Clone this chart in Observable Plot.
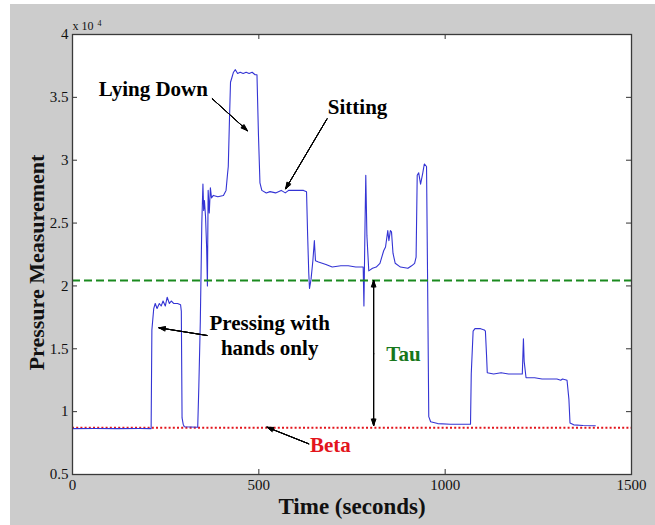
<!DOCTYPE html>
<html><head><meta charset="utf-8">
<script src="https://cdn.jsdelivr.net/npm/d3@7"></script>
<script src="https://cdn.jsdelivr.net/npm/@observablehq/plot@0.6"></script>
<style>
html,body{margin:0;padding:0;background:#fff;}
#wrap{position:relative;width:655px;height:525px;overflow:hidden;}
#bg{position:absolute;left:10px;top:4px;right:0;bottom:0;background:#cccccc;}
#chart{position:absolute;left:0;top:0;}
#chart svg text{font-family:'Liberation Serif','Times New Roman',serif;}
</style></head><body>
<div id="wrap"><div id="bg"></div><div id="chart"></div></div>
<script>
// Tick values
const xTicks = [0, 500, 1000, 1500];
const yTicks = [5000, 10000, 15000, 20000, 25000, 30000, 35000, 40000];

// Pressure series: [time (s), pressure]
const pressureSeries = [
  [0,8650],[60,8660],[120,8650],[180,8655],[211,8650],[213,16500],[218,18200],[222,18600],
  [227,18200],[233,18600],[238,18400],[243,18800],[249,18400],[254,19100],[260,18600],
  [265,18800],[272,18600],[282,18600],[290,18500],[292,18000],[294,9500],[297,9000],
  [300,8800],[318,8780],[336,8760],[339,12000],[343,17200],[347,25000],[350,28100],
  [352,26000],[354,26800],[357,25500],[360,23000],[362,20000],[364,27600],[367,25800],
  [370,27800],[373,27000],[378,27200],[390,27100],[405,27200],[412,27600],[416,28900],
  [418,29500],[421,33000],[424,36200],[428,36600],[432,37000],[437,37200],[443,36900],
  [450,37000],[458,36900],[466,37000],[474,36900],[482,37000],[490,36800],[495,36800],
  [499,32000],[503,28200],[508,27600],[520,27400],[530,27500],[545,27400],[560,27600],
  [571,27400],[580,27600],[600,27600],[620,27600],[628,27500],[631,24000],[634,21000],
  [636,19800],[640,20500],[645,22000],[649,23600],[652,22000],[660,21900],[680,21700],
  [697,21500],[720,21600],[740,21600],[760,21500],[780,21500],[782,18400],[785,25000],
  [787,28800],[790,24000],[795,21200],[805,21400],[815,21500],[825,21800],[835,22800],
  [840,23100],[846,24400],[849,23600],[853,24400],[856,24300],[860,22600],[866,21800],
  [880,21500],[900,21400],[910,21600],[918,21800],[922,22300],[925,28800],[929,29000],
  [934,28100],[940,29000],[944,29700],[950,29500],[953,20000],[956,9600],[961,9200],
  [980,9050],[1014,9000],[1040,9000],[1068,9000],[1070,13000],[1075,16400],[1080,16600],
  [1095,16600],[1105,16500],[1108,16400],[1111,14500],[1113,13100],[1130,13000],
  [1150,13100],[1170,13000],[1190,13000],[1207,13000],[1210,15800],[1212,14000],
  [1217,12700],[1240,12700],[1260,12600],[1280,12600],[1300,12600],[1310,12500],
  [1315,12600],[1327,12500],[1332,11000],[1335,9100],[1345,8950],[1370,8900],[1403,8880]
];

// Threshold levels
const tauLevel = 20430;
const betaLevel = 8710;

// Annotation labels: [text, time, pressure, color]
const annotations = [
  ["Lying Down", 217, 35780, "black"],
  ["Sitting", 765, 34350, "black"],
  ["Pressing with\nhands only", 529, 16140, "black"],
  ["Beta", 692, 7470, "#e3151c"],
  ["Tau", 888, 14700, "#17771b"]
];

// Annotation arrows: [t1, p1, t2, p2]
const arrows = [
  [375, 34890, 469, 32360],
  [683, 33290, 572, 27730],
  [361, 16060, 232, 16670],
  [634, 7440, 522, 8760],
  [808, 14600, 808, 20430],
  [808, 14600, 808, 8900]
];

const serif = "'Liberation Serif', 'Times New Roman', serif";

// stacked arrowheads give a filled look
const headAngles = [40, 30, 20, 10];
const arrowMarks = headAngles.map(a => Plot.arrow(arrows, {
  x1: d => d[0], y1: d => d[1], x2: d => d[2], y2: d => d[3],
  stroke: "black", strokeWidth: 1, headLength: 10, headAngle: a
}));

const chart = Plot.plot({
  width: 655, height: 525,
  marginLeft: 72, marginRight: 24, marginTop: 34, marginBottom: 51,
  style: {background: "transparent", fontFamily: serif, color: "#111"},
  x: {domain: [0, 1500], axis: null},
  y: {domain: [5000, 40000], axis: null},
  marks: [
    Plot.frame({fill: "white", stroke: "none"}),
    Plot.ruleY([betaLevel], {stroke: "#e3151c", strokeWidth: 2, strokeDasharray: "2,2.2"}),
    Plot.line(pressureSeries, {x: d => d[0], y: d => d[1], stroke: "#3434d4", strokeWidth: 1.1}),
    Plot.ruleY([tauLevel], {stroke: "#1a8a1f", strokeWidth: 2, strokeDasharray: "8,4"}),
    ...arrowMarks,
    Plot.text(annotations, {x: d => d[1], y: d => d[2], text: d => d[0], fill: d => d[3],
      fontFamily: serif, fontSize: 21, fontWeight: "bold", lineAnchor: "middle", textAnchor: "middle", lineHeight: 1.2}),
    // inward ticks
    Plot.ruleX(xTicks, {x: d => d, insetTop: 435, stroke: "#333"}),
    Plot.ruleX(xTicks, {x: d => d, insetBottom: 435, stroke: "#333"}),
    Plot.ruleY(yTicks, {y: d => d, insetRight: 554, stroke: "#333"}),
    Plot.ruleY(yTicks, {y: d => d, insetLeft: 554, stroke: "#333"}),
    Plot.frame({stroke: "#3a3a3a", strokeWidth: 1.3}),
    // tick labels
    Plot.text(xTicks, {x: d => d, text: d => String(d), frameAnchor: "bottom", lineAnchor: "top",
      dy: 5, fontFamily: serif, fontSize: 15, fill: "#111"}),
    Plot.text(yTicks, {y: d => d, text: d => String(d / 10000), frameAnchor: "left", textAnchor: "end",
      lineAnchor: "middle", dx: -4, fontFamily: serif, fontSize: 15, fill: "#111"}),
    // exponent label
    Plot.text(["x 10"], {frameAnchor: "top-left", textAnchor: "start", lineAnchor: "middle",
      dx: 0, dy: -8, fontFamily: serif, fontSize: 12, fill: "#111"}),
    Plot.text(["4"], {frameAnchor: "top-left", textAnchor: "start", lineAnchor: "middle",
      dx: 25, dy: -11, fontFamily: serif, fontSize: 8, fill: "#111"}),
    // axis titles
    Plot.text(["Time (seconds)"], {frameAnchor: "bottom", textAnchor: "middle", lineAnchor: "middle", dy: 32,
      fontFamily: serif, fontSize: 23, fontWeight: "bold", fill: "#111"}),
    Plot.text(["Pressure Measurement"], {frameAnchor: "left", textAnchor: "middle", lineAnchor: "middle", rotate: -90,
      dx: -36, dy: 8, fontFamily: serif, fontSize: 22, fontWeight: "bold", fill: "#111"})
  ]
});
document.getElementById("chart").appendChild(chart);
</script>
</body></html>
